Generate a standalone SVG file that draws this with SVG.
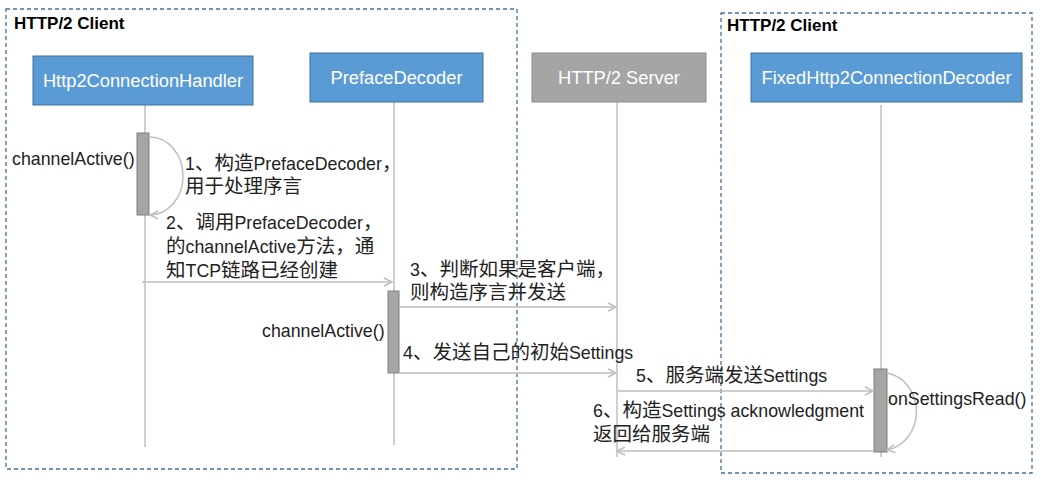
<svg xmlns="http://www.w3.org/2000/svg" width="1041" height="483" viewBox="0 0 1041 483">
<style>
.frame{fill:none;stroke:#41719C;stroke-width:1.3;stroke-dasharray:4,3}
.ftitle{font-family:"Liberation Sans","Noto Sans CJK SC",sans-serif;font-size:17px;font-weight:bold;fill:#000}
.hb{fill:#5B9BD5;stroke:#41719C;stroke-width:1}
.hg{fill:#A5A5A5;stroke:#8C8C8C;stroke-width:1}
.ht{font-family:"Liberation Sans","Noto Sans CJK SC",sans-serif;font-size:18.3px;fill:#fff;text-anchor:middle}
.life{stroke:#BFBFBF;stroke-width:1.5;fill:none}
.act{fill:#A5A5A5;stroke:#7F7F7F;stroke-width:1}
.msg{stroke:#BFBFBF;stroke-width:1.5;fill:none;marker-end:url(#arr)}
.t{font-family:"Liberation Sans","Noto Sans CJK SC",sans-serif;font-size:17.8px;fill:#222}
.c{font-family:"Noto Sans CJK SC",sans-serif;font-size:19.5px}
</style>
<defs>
<marker id="arr" markerWidth="12" markerHeight="12" refX="9" refY="5" orient="auto" markerUnits="userSpaceOnUse">
<path d="M1,1 L9,5 L1,9" fill="none" stroke="#BFBFBF" stroke-width="1.5"/>
</marker>
</defs>
<rect width="1041" height="483" fill="#fff"/>
<g id="client-frame-left">
<rect class="frame" x="6" y="9" width="511" height="460"/>
<text class="ftitle" x="14" y="29">HTTP/2 Client</text>
</g>
<g id="client-frame-right">
<rect class="frame" x="721" y="13" width="311" height="460"/>
<text class="ftitle" x="727" y="31">HTTP/2 Client</text>
</g>
<g id="node-handler">
<line class="life" x1="145" y1="105" x2="145" y2="447"/>
<rect class="hb" x="33" y="56" width="220" height="49"/>
<text class="ht" x="143" y="87">Http2ConnectionHandler</text>
<rect class="act" x="137" y="133" width="12" height="82"/>
</g>
<g id="node-preface">
<line class="life" x1="394" y1="102" x2="394" y2="445"/>
<rect class="hb" x="310" y="53" width="173" height="49"/>
<text class="ht" x="396.5" y="84">PrefaceDecoder</text>
<rect class="act" x="388" y="291" width="11" height="82"/>
</g>
<g id="node-server">
<line class="life" x1="617" y1="102" x2="617" y2="457"/>
<rect class="hg" x="532" y="53" width="174" height="49"/>
<text class="ht" x="619" y="84">HTTP/2 Server</text>
</g>
<g id="node-fixed">
<line class="life" x1="881" y1="105" x2="881" y2="457"/>
<rect class="hb" x="751" y="53" width="271" height="49"/>
<text class="ht" x="886.5" y="84">FixedHttp2ConnectionDecoder</text>
<rect class="act" x="874" y="369" width="13" height="83"/>
</g>
<g id="connectors">
<path class="msg" d="M150,137 A33,39 0 0 1 150,215"/>
<line class="msg" x1="142" y1="282" x2="392" y2="282"/>
<line class="msg" x1="400" y1="307" x2="616" y2="307"/>
<line class="msg" x1="400" y1="373" x2="616" y2="373"/>
<line class="msg" x1="618" y1="391" x2="873" y2="391"/>
<line class="msg" x1="874" y1="451" x2="617" y2="451"/>
<path class="msg" d="M887,373 A35,39 0 0 1 887,450"/>
</g>
<g id="labels">
<text class="t" x="12" y="165">channelActive()</text>
<text class="t" x="185" y="170">1<tspan class="c">、构造</tspan>PrefaceDecoder<tspan class="c">，</tspan></text>
<text class="t" x="185" y="193"><tspan class="c">用于处理序言</tspan></text>
<text class="t" x="166" y="229">2<tspan class="c">、调用</tspan>PrefaceDecoder<tspan class="c">，</tspan></text>
<text class="t" x="166" y="253"><tspan class="c">的</tspan>channelActive<tspan class="c">方法，通</tspan></text>
<text class="t" x="166" y="277"><tspan class="c">知</tspan>TCP<tspan class="c">链路已经创建</tspan></text>
<text class="t" x="410" y="276">3<tspan class="c">、判断如果是客户端，</tspan></text>
<text class="t" x="410" y="299"><tspan class="c">则构造序言并发送</tspan></text>
<text class="t" x="262" y="337">channelActive()</text>
<text class="t" x="403" y="359">4<tspan class="c">、发送自己的初始</tspan>Settings</text>
<text class="t" x="636" y="382">5<tspan class="c">、服务端发送</tspan>Settings</text>
<text class="t" x="888" y="405">onSettingsRead()</text>
<text class="t" x="593" y="417">6<tspan class="c">、构造</tspan>Settings acknowledgment</text>
<text class="t" x="593" y="441"><tspan class="c">返回给服务端</tspan></text>
</g>
</svg>
